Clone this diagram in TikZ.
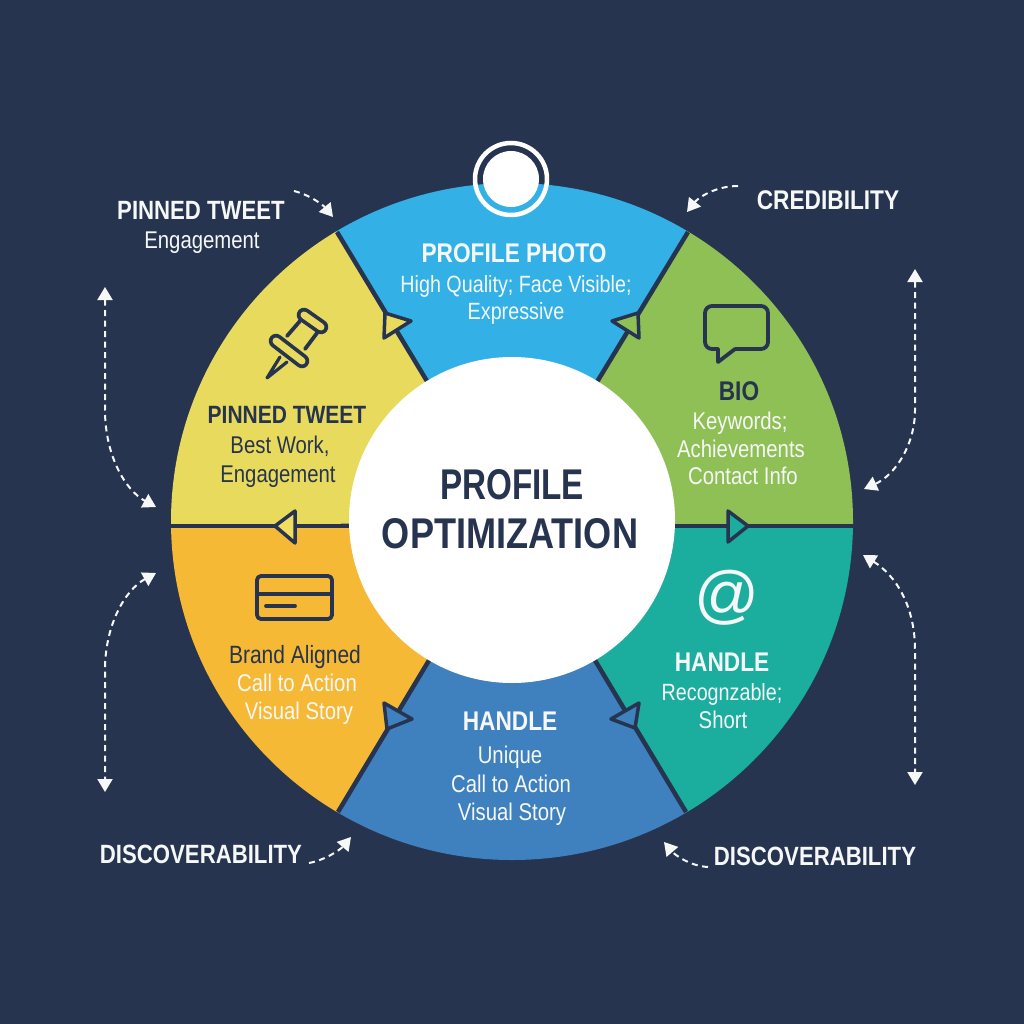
\documentclass[tikz,border=0pt]{standalone}
\usepackage{fontspec}
\setmainfont[FakeStretch=0.84]{Liberation Sans}
\newfontfamily\atfont{Liberation Sans}
\usetikzlibrary{arrows.meta}
\definecolor{bgc}{HTML}{27344F}
\definecolor{segblue}{HTML}{33B1E6}
\definecolor{seggreen}{HTML}{8FC055}
\definecolor{segteal}{HTML}{1BAE9E}
\definecolor{segnavy}{HTML}{3F80BF}
\definecolor{segorange}{HTML}{F6B935}
\definecolor{segyellow}{HTML}{E8DA5C}
\definecolor{lightyellow}{HTML}{F2DD62}
\definecolor{offwhite}{HTML}{F6F8F8}
\tikzset{
 lbl/.style={anchor=base,inner sep=0pt,text=offwhite},
 hd/.style={lbl,font=\fontsize{27}{30}\selectfont\bfseries},
 hdsmall/.style={lbl,font=\fontsize{26.4}{30}\selectfont\bfseries},
 tx/.style={lbl,font=\fontsize{24.2}{28}\selectfont},
 txsmall/.style={lbl,font=\fontsize{23.5}{28}\selectfont},
 drk/.style={text=bgc},
 spoke/.style={draw=bgc,line width=4.5pt},
 tri/.style={draw=bgc,line width=3.5pt,line join=round},
 icon/.style={draw=bgc,line width=3.8pt,line join=round,line cap=round},
 flow/.style={draw=offwhite,line width=2pt,dash pattern=on 6pt off 4.5pt,-{Triangle[length=13pt,width=15pt]}},
 flowb/.style={draw=offwhite,line width=2pt,dash pattern=on 6pt off 4.5pt,{Triangle[length=13pt,width=15pt]}-{Triangle[length=13pt,width=15pt]}},
}
\begin{document}
\begin{tikzpicture}[x=1pt,y=-1pt]
\useasboundingbox (0,0) rectangle (1024,1024);
\fill[bgc] (0,0) rectangle (1024,1024);
\coordinate (c) at (512,522);
% sectors
\begin{scope}
\clip (512,521.5) ellipse (341pt and 338.5pt);
\fill[segblue] (c) -- (270,122) -- (754,122) -- cycle;
\fill[seggreen] (c) -- (754,122) -- (900,122) -- (900,526) -- (512,526) -- cycle;
\fill[segteal] (c) -- (512,526) -- (900,526) -- (900,922) -- (754,922) -- cycle;
\fill[segnavy] (c) -- (754,922) -- (270,922) -- cycle;
\fill[segorange] (c) -- (270,922) -- (120,922) -- (120,526) -- (512,526) -- cycle;
\fill[segyellow] (c) -- (120,526) -- (120,122) -- (270,122) -- cycle;
\draw[spoke] (c) -- (337,232);
\draw[spoke] (c) -- (688,232);
\draw[spoke] (c) -- (338,812);
\draw[spoke] (c) -- (686,812);
\draw[spoke] (171,526) -- (853,526);
\end{scope}
% spoke arrowheads
\filldraw[tri,fill=segyellow] (385,313) -- (411,321) -- (384,338) -- cycle;
\filldraw[tri,fill=seggreen] (612,321) -- (638,313) -- (639,338) -- cycle;
\filldraw[tri,fill=segteal] (728,511) -- (748,526) -- (728,542) -- cycle;
\filldraw[tri,fill=segnavy] (611,719) -- (639,703) -- (635,728) -- cycle;
\filldraw[tri,fill=segnavy] (384,703) -- (412,719) -- (387,729) -- cycle;
\filldraw[tri,fill=lightyellow] (275,526) -- (295,511) -- (295,543) -- cycle;
% centre
\fill[white] (512,520) circle (163pt);
\node[lbl,drk,font=\fontsize{43}{48}\selectfont\bfseries] (centerA) at (512,499) {\scalebox{0.92}[1]{PROFILE}};
\node[lbl,drk,font=\fontsize{43}{48}\selectfont\bfseries] (centerB) at (510,548) {OPTIMIZATION};
% photo ring
\draw[white,line width=4.5pt] (511,179) circle (36pt);
\fill[white] (511,179) circle (28pt);
% pin icon
\draw[bgc,line width=14.5pt,line cap=round] (304,315) -- (321,327);
\draw[segyellow,line width=7pt,line cap=round] (304,315) -- (321,327);
\draw[icon] (300,321) -- (287,336) (317,333) -- (305,349);
\draw[bgc,line width=14.5pt,line cap=round] (276,341) -- (302,361);
\draw[segyellow,line width=7pt,line cap=round] (276,341) -- (302,361);
\draw[icon,line width=3.2pt] (280,357) -- (267,378) -- (287,362);
% bubble
\draw[icon,rounded corners=7pt] (718,349) -- (705,349) -- (705,306) -- (768,306) -- (768,349) -- (735,349);
\draw[icon] (718,349) -- (718,362) -- (735,349);
% card
\draw[icon,rounded corners=4pt] (257,576) rectangle (332,619);
\draw[icon] (257,594) -- (332,594);
\draw[icon] (266,606) -- (295,606);
% at sign
\node[lbl,font=\atfont\fontsize{64}{70}\selectfont] (atsign) at (727,616) {@};
% labels
\node[hd] (photoH) at (514,262) {PROFILE PHOTO};
\node[txsmall] (photoA) at (516,292) {High Quality; Face Visible;};
\node[txsmall] (photoB) at (516,319) {Expressive};
\node[hdsmall] (outPinH) at (201,220) {PINNED TWEET};
\node[tx] (outPinA) at (202,248) {Engagement};
\node[hd,drk,font=\fontsize{25}{30}\selectfont\bfseries] (pinH) at (287,423) {PINNED TWEET};
\node[tx,drk] (pinA) at (280,453) {Best Work,};
\node[tx,drk] (pinB) at (278,482) {Engagement};
\node[hd,drk] (bioH) at (739,400) {BIO};
\node[tx] (bioA) at (740,429) {Keywords;};
\node[tx] (bioB) at (741,457) {Achievements};
\node[tx] (bioC) at (743,484) {Contact Info};
\node[hd] (cred) at (828,210) {CREDIBILITY};
\node[tx,drk,font=\fontsize{25}{28}\selectfont] (brandA) at (295,663) {Brand Aligned};
\node[tx] (brandB) at (297,691) {Call to Action};
\node[tx] (brandC) at (299,719) {Visual Story};
\node[hdsmall] (discL) at (201,863) {DISCOVERABILITY};
\node[hd] (handT) at (722,671) {HANDLE};
\node[txsmall] (handTA) at (722,700) {Recognzable;};
\node[tx] (handTB) at (723,728) {Short};
\node[hdsmall] (discR) at (815,865) {DISCOVERABILITY};
\node[hd] (handB) at (510,730) {HANDLE};
\node[tx] (handBA) at (510,763) {Unique};
\node[tx] (handBB) at (511,792) {Call to Action};
\node[tx] (handBC) at (512,820) {Visual Story};
% dashed arrows
\coordinate (a1s) at (294,191); \coordinate (a1e) at (333,217);
\coordinate (a2s) at (105,287); \coordinate (a2e) at (156,507);
\coordinate (a3s) at (156,573); \coordinate (a3e) at (105,792);
\coordinate (a4s) at (309,863); \coordinate (a4e) at (351,837);
\coordinate (a5s) at (708,867); \coordinate (a5e) at (664,842);
\coordinate (a6s) at (863,555); \coordinate (a6e) at (915,785);
\coordinate (a7s) at (915,269); \coordinate (a7e) at (864,489);
\coordinate (a8s) at (738,186); \coordinate (a8e) at (687,212);
\draw[flow] (a1s) .. controls (310,195) and (323,205) .. (a1e);
\draw[flowb] (a2s) -- (105,410) .. controls (105,455) and (125,490) .. (a2e);
\draw[flowb] (a3s) .. controls (125,590) and (105,625) .. (105,670) -- (a3e);
\draw[flow] (a4s) .. controls (325,860) and (340,850) .. (a4e);
\draw[flow] (a5s) .. controls (690,866) and (675,855) .. (a5e);
\draw[flowb] (a6s) .. controls (895,575) and (915,605) .. (915,650) -- (a6e);
\draw[flowb] (a7s) -- (915,410) .. controls (915,445) and (895,475) .. (a7e);
\draw[flow] (a8s) .. controls (715,186) and (698,198) .. (a8e);
\end{tikzpicture}
\end{document}
